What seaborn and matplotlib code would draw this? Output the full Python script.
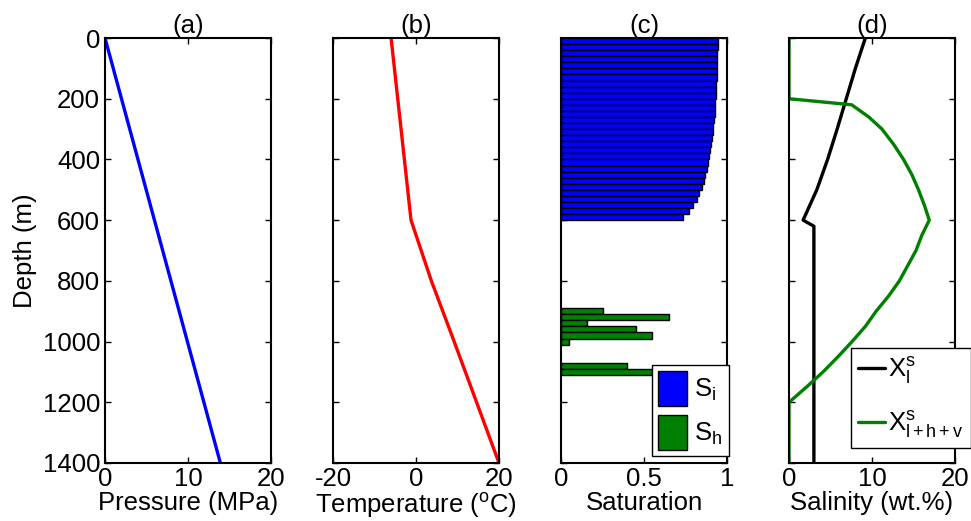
import numpy as np
import pandas as pd
import matplotlib
matplotlib.use("Agg")
import matplotlib.pyplot as plt
from matplotlib.patches import Patch
from matplotlib.lines import Line2D
import seaborn as sns

# ---- data -------------------------------------------------------------
pressure_depth = [0, 1400]
pressure_mpa = [0.0, 13.9]

temp_depth = [0, 600, 800, 1000, 1200, 1400]
temp_c = [-6.0, -1.2, 3.7, 9.2, 14.6, 20.0]

# ice saturation in 20 m cells, 0-600 m
ice_depth = list(range(10, 600, 20))
ice_sat = [0.944, 0.943, 0.942, 0.941, 0.940, 0.939, 0.937, 0.936, 0.934, 0.932,
           0.930, 0.927, 0.925, 0.922, 0.918, 0.914, 0.910, 0.905, 0.900, 0.894,
           0.887, 0.879, 0.870, 0.860, 0.848, 0.834, 0.817, 0.797, 0.771, 0.735]

# hydrate saturation in 20 m cells
hyd_depth = [900, 920, 940, 960, 980, 1000, 1080, 1100]
hyd_sat = [0.25, 0.65, 0.155, 0.45, 0.55, 0.05, 0.40, 0.55]

# salinity profiles
xl_depth = [0, 100, 200, 300, 400, 500, 600, 620, 1400]
xl_salinity = [9.2, 8.0, 6.9, 5.8, 4.65, 3.35, 1.7, 3.0, 3.0]

xt_depth = [0, 200, 220, 260, 300, 350, 400, 450, 500, 550, 600,
            650, 700, 750, 800, 850, 900, 950, 1000, 1050, 1100, 1150, 1200, 1400]
xt_salinity = [0.0, 0.0, 7.55, 9.6, 11.2, 12.6, 13.8, 14.8, 15.6, 16.3, 16.9,
               16.0, 15.3, 14.3, 13.3, 12.0, 10.5, 9.2, 7.6, 5.9, 4.1, 2.1, 0.0, 0.0]

depth_ticks = [0, 200, 400, 600, 800, 1000, 1200, 1400]

# ---- style ------------------------------------------------------------
sns.set_theme(style="ticks")
FS = 18.5
plt.rcParams.update({
    "font.family": ["Liberation Sans", "DejaVu Sans"],
    "mathtext.fontset": "custom",
    "mathtext.rm": "Liberation Sans",
    "mathtext.it": "Liberation Sans",
    "axes.unicode_minus": False,
    "font.size": FS,
    "text.color": "black",
    "axes.labelcolor": "black",
    "axes.linewidth": 1.5,
    "axes.edgecolor": "black",
    "xtick.direction": "in",
    "ytick.direction": "in",
    "xtick.top": True,
    "ytick.right": True,
    "xtick.major.size": 4,
    "ytick.major.size": 4,
    "xtick.major.width": 1.0,
    "ytick.major.width": 1.0,
    "xtick.color": "black",
    "ytick.color": "black",
    "xtick.labelcolor": "black",
    "ytick.labelcolor": "black",
    "xtick.labelsize": FS,
    "ytick.labelsize": FS,
    "axes.labelsize": FS,
    "axes.titlesize": FS,
    "legend.fontsize": FS,
})

W, H = 971, 521
fig = plt.figure(figsize=(W / 100, H / 100), dpi=100)

lefts = [105, 333, 561, 789]
ax_w, top, bottom = 166, 38, 463
axes = [fig.add_axes([l / W, (H - bottom) / H, ax_w / W, (bottom - top) / H]) for l in lefts]

LW = 2.4
line_kw = dict(sort=False, estimator=None, orient="y", lw=LW)

# (a) pressure
df_p = pd.DataFrame({"depth": pressure_depth, "p": pressure_mpa})
sns.lineplot(data=df_p, x="p", y="depth", color="blue", ax=axes[0], **line_kw)
axes[0].set_xlim(0, 20)
axes[0].set_xticks([0, 10, 20])
axes[0].set_xlabel("Pressure (MPa)", labelpad=0)
axes[0].set_ylabel("Depth (m)", labelpad=4)

# (b) temperature
df_t = pd.DataFrame({"depth": temp_depth, "t": temp_c})
sns.lineplot(data=df_t, x="t", y="depth", color="red", ax=axes[1], **line_kw)
axes[1].set_xlim(-20, 20)
axes[1].set_xticks([-20, 0, 20])
axes[1].set_xlabel("Temperature ($^\\mathrm{o}$C)", labelpad=0)

# (c) saturation bars
axc = axes[2]
axc.barh(ice_depth, ice_sat, height=20, color="blue", edgecolor="black", linewidth=1.0)
axc.barh(hyd_depth, hyd_sat, height=20, color="green", edgecolor="black", linewidth=1.0)
axc.set_xlim(0, 1)
axc.set_xticks([0, 0.5, 1])
axc.set_xticklabels(["0", "0.5", "1"])
axc.set_xlabel("Saturation", labelpad=0)
sat_handles = [Patch(facecolor="blue", edgecolor="black"),
               Patch(facecolor="green", edgecolor="black")]
leg_c = axc.legend(sat_handles, ["S$_\\mathrm{i}$", "S$_\\mathrm{h}$"],
                   loc="lower right", bbox_to_anchor=(1.012, 0.016), borderaxespad=0,
                   handlelength=1.1, handleheight=1.7, handletextpad=0.3,
                   labelspacing=0.35, borderpad=0.25, fancybox=False, framealpha=1,
                   edgecolor="black")
leg_c.get_frame().set_linewidth(1.0)

# (d) salinity
axd = axes[3]
df_xl = pd.DataFrame({"depth": xl_depth, "s": xl_salinity})
df_xt = pd.DataFrame({"depth": xt_depth, "s": xt_salinity})
sns.lineplot(data=df_xl, x="s", y="depth", color="black", ax=axd, **line_kw)
sns.lineplot(data=df_xt, x="s", y="depth", color="green", ax=axd, **line_kw)
axd.set_xlim(0, 20)
axd.set_xticks([0, 10, 20])
axd.set_xlabel("Salinity (wt.%)", labelpad=0)
sal_handles = [Line2D([], [], color="black", lw=LW), Line2D([], [], color="green", lw=LW)]
leg_d = axd.legend(sal_handles, ["X$_\\mathrm{l}^\\mathrm{s}$", "X$_\\mathrm{l+h+v}^\\mathrm{s}$"],
                   loc="lower right", bbox_to_anchor=(1.096, 0.035), borderaxespad=0,
                   handlelength=1.05, handletextpad=0.1, labelspacing=0.9,
                   borderpad=0.3, fancybox=False, framealpha=1, edgecolor="black")
leg_d.get_frame().set_linewidth(1.0)

for i, (ax, title) in enumerate(zip(axes, ["(a)", "(b)", "(c)", "(d)"])):
    ax.set_ylim(1400, 0)
    ax.set_yticks(depth_ticks)
    ax.set_title(title, pad=1)
    ax.tick_params(axis="x", pad=3)
    if i > 0:
        ax.set_yticklabels([])
        ax.set_ylabel("")
    for s in ax.spines.values():
        s.set_visible(True)

fig.savefig("out.png", dpi=100)
